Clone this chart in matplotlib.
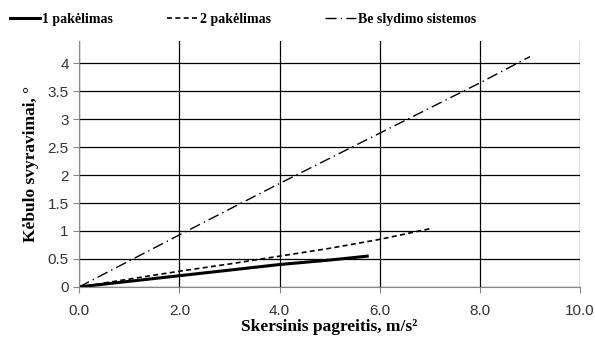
import matplotlib

matplotlib.use("Agg")
import matplotlib.pyplot as plt

# data
x1 = [0.0, 1.0, 2.0, 3.0, 4.0, 5.0, 5.75]
y1 = [0.0, 0.10, 0.20, 0.30, 0.40, 0.48, 0.55]
x2 = [0.0, 1.0, 2.0, 3.0, 4.0, 5.0, 6.0, 7.05]
y2 = [0.0, 0.14, 0.28, 0.41, 0.55, 0.69, 0.85, 1.05]
x3 = [0.0, 2.0, 4.0, 6.0, 8.0, 9.0]
y3 = [0.0, 0.93, 1.85, 2.75, 3.65, 4.12]
labels = ["1 pakėlimas", "2 pakėlimas", "Be slydimo sistemos"]
xticks = [0, 2, 4, 6, 8, 10]
yticks = [0, 0.5, 1, 1.5, 2, 2.5, 3, 3.5, 4]

plt.rcParams.update({"font.family": "Liberation Sans"})
fig = plt.figure(figsize=(5.95, 3.44), dpi=100)
ax = fig.add_axes([0.133, 0.166, 0.842, 0.715])

ax.plot(x1, y1, color="black", lw=2.2, label=labels[0])
ax.plot(x2, y2, color="black", lw=1.2, ls=(0, (3, 2)), label=labels[1])
ax.plot(x3, y3, color="black", lw=1.0, ls=(0, (8, 3, 1, 3)), label=labels[2])

ax.set_xlim(0, 10)
ax.set_ylim(0, 4.4)
ax.set_xticks(xticks)
ax.set_xticklabels([f"{v:.1f}" for v in xticks])
ax.set_yticks(yticks)
ax.set_yticklabels([f"{v:g}" for v in yticks])
ax.grid(True, color="black", lw=0.9)
ax.set_axisbelow(True)
for s in ("top", "right"):
    ax.spines[s].set_visible(False)
for s in ("left", "bottom"):
    ax.spines[s].set_color("#888888")
ax.tick_params(axis="both", colors="#888888", labelcolor="#333333",
               labelsize=11, length=4)
ax.tick_params(axis="x", pad=8)

bold = {"family": "Liberation Serif", "weight": "bold", "size": 12.5}
ax.set_xlabel("Skersinis pagreitis, m/s²", fontdict=bold, labelpad=1)
ax.set_ylabel("Kėbulo svyravimai, °", fontdict=bold, labelpad=6)

fig.legend(loc="upper left", bbox_to_anchor=(0.0, 0.99), ncol=3, frameon=False,
           prop={"family": "Liberation Serif", "weight": "bold", "size": 10},
           handlelength=2.2, handletextpad=0.15, columnspacing=3.9,
           borderaxespad=0.3)

fig.savefig("out.png", dpi=100)
